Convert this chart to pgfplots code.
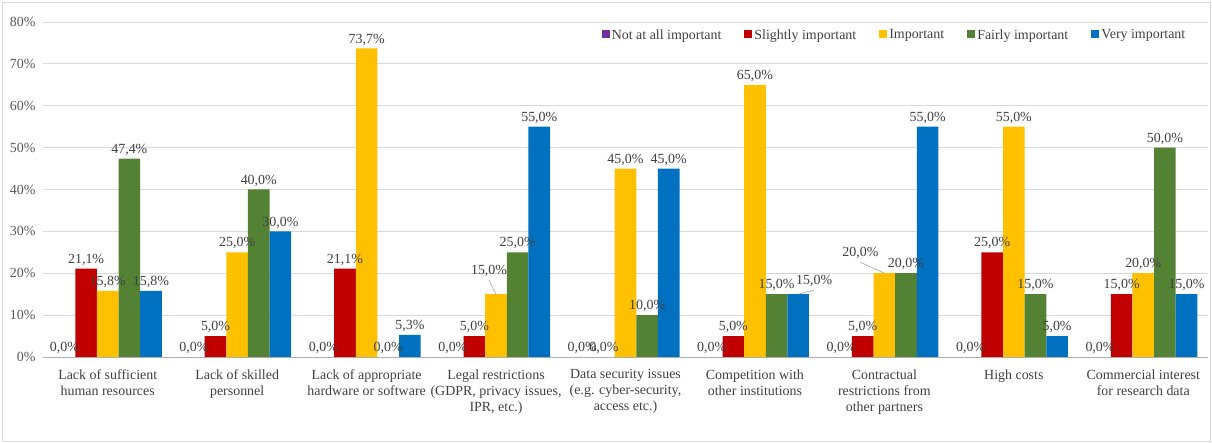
\documentclass[border=0pt]{standalone}
\usepackage{fontspec}
\setmainfont{Liberation Serif}
\usepackage{pgfplots}
\usepackage{pgfplotstable}
\pgfplotsset{compat=1.18}
\definecolor{cpurple}{HTML}{7030A0}
\definecolor{cred}{HTML}{C00000}
\definecolor{cyellow}{HTML}{FFC000}
\definecolor{cgreen}{HTML}{548235}
\definecolor{cblue}{HTML}{0070C0}
\definecolor{labtxt}{HTML}{404040}
\definecolor{ticktxt}{HTML}{595959}
\definecolor{gridc}{HTML}{D9D9D9}
\definecolor{leadc}{HTML}{A6A6A6}
\pgfplotstableread{
x y dx dy
0 0 0 0
1 0 0 0
2 0 0 0
3 0 0 0
4 0 0 0
5 0 0 0
6 0 0 0
7 0 0 0
8 0 0 0
}\tpurple
\pgfplotstableread{
x y dx dy
0 21.1 0 0
1 5.0 0 0
2 21.1 0 0
3 5.0 0 0
4 0 0 0
5 5.0 0 0
6 5.0 0 0
7 25.0 0 0
8 15.0 0 0
}\tred
\pgfplotstableread{
x y dx dy
0 15.8 0 0
1 25.0 0 0
2 73.7 0 0
3 15.0 -7 14
4 45.0 0 0
5 65.0 0 0
6 20.0 -24 11
7 55.0 0 0
8 20.0 0 0
}\tyellow
\pgfplotstableread{
x y dx dy
0 47.4 0 0
1 40.0 0 0
2 0 0 0
3 25.0 0 0
4 10.0 0 0
5 15.0 0 0
6 20.0 0 0
7 15.0 0 0
8 50.0 0 0
}\tgreen
\pgfplotstableread{
x y dx dy
0 15.8 0 0
1 30.0 0 0
2 5.3 0 0
3 55.0 0 0
4 45.0 0 0
5 15.0 16 4
6 55.0 0 0
7 5.0 0 0
8 15.0 0 0
}\tblue
\begin{document}
\begin{tikzpicture}
\useasboundingbox (-43bp,-86bp) rectangle (1169bp,357bp);
\draw[gridc, line width=0.75bp] (-41bp,-84bp) rectangle (1167bp,355bp);
\begin{axis}[
  scale only axis, width=1165bp, height=335bp,
  xmin=-0.5, xmax=8.5, ymin=0, ymax=80,
  ybar=0pt, bar width=0.167,
  /pgf/number format/assume math mode=true,
  axis x line*=bottom, axis y line*=left,
  x axis line style={draw=gridc!80!black, line width=0.75bp},
  y axis line style={draw=none},
  ymajorgrids, grid style={color=gridc, line width=0.75bp},
  major tick length=0pt,
  ytick={0,10,...,80},
  yticklabel={\pgfmathprintnumber{\tick}\%},
  yticklabel style={font=\fontsize{14}{16}\selectfont, color=ticktxt, xshift=-4bp},
  xtick={0,...,8},
  xticklabels={{Lack of sufficient\\human resources},{Lack of skilled\\personnel},{Lack of appropriate\\hardware or software},{Legal restrictions\\(GDPR, privacy issues,\\IPR, etc.)},{Data security issues\\(e.g. cyber-security,\\access etc.)},{Competition with\\other institutions},{Contractual\\restrictions from\\other partners},{High costs},{Commercial interest\\for research data}},
  xticklabel style={align=center, font=\fontsize{14}{16}\selectfont, color=labtxt, yshift=-9bp},
  legend columns=5,
  legend style={draw=none, fill=none, at={(0.985,0.99)}, anchor=north east,
    font=\fontsize{14}{16}\selectfont, text=labtxt,
    /tikz/every even column/.append style={column sep=21bp}},
  legend image code/.code={\fill[#1] (0bp,-3bp) rectangle (8bp,5bp);},
  lbl/.style={
    visualization depends on={\thisrow{dx} \as \ldx},
    visualization depends on={\thisrow{dy} \as \ldy},
    nodes near coords={\pgfmathprintnumber[fixed,fixed zerofill,precision=1,use comma]{\pgfplotspointmeta}\%},
    every node near coord/.append style={font=\fontsize{14}{16}\selectfont, color=labtxt, inner sep=3bp,
       xshift=\ldx*1bp, yshift=\ldy*1bp,
       append after command={(\tikzlastnode.south) edge[draw=leadc, line width=0.6bp] +(-\ldx*1bp,-\ldy*1bp)}},
  },
]
\addplot[fill=cpurple, draw=none, lbl] table[x=x,y=y] {\tpurple};
\addlegendentry{Not at all important}
\addplot[fill=cred, draw=none, lbl] table[x=x,y=y] {\tred};
\addlegendentry{Slightly important}
\addplot[fill=cyellow, draw=none, lbl] table[x=x,y=y] {\tyellow};
\addlegendentry{Important}
\addplot[fill=cgreen, draw=none, lbl] table[x=x,y=y] {\tgreen};
\addlegendentry{Fairly important}
\addplot[fill=cblue, draw=none, lbl] table[x=x,y=y] {\tblue};
\addlegendentry{Very important}
\end{axis}
\end{tikzpicture}
\end{document}
